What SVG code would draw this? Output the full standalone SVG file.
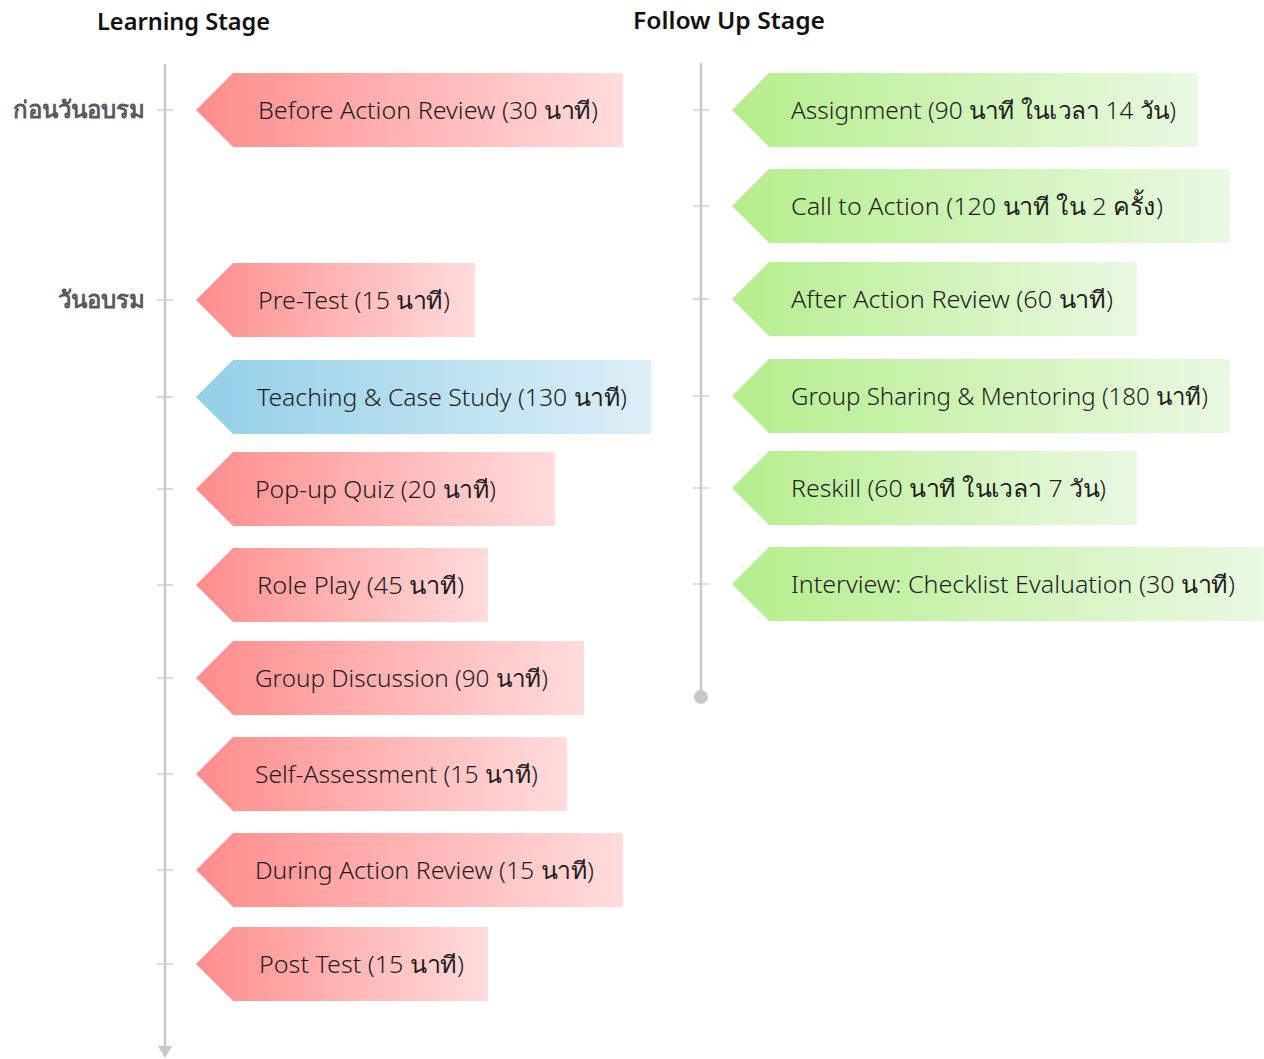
<svg xmlns="http://www.w3.org/2000/svg" width="1264" height="1059" viewBox="0 0 1264 1059">
<style>
.t{font-family:"Noto Sans","DejaVu Sans",sans-serif;font-size:24px;font-weight:300;fill:#1e1e1e}
.t tspan{font-weight:400}
.h{font-family:"Noto Sans","DejaVu Sans",sans-serif;font-size:23px;font-weight:600;fill:#111}
.s{font-family:"Noto Sans","DejaVu Sans",sans-serif;font-size:24px;font-weight:600;fill:#5a5a5a;text-anchor:end}
.ax{stroke:#c8c8c8;stroke-width:2.5;fill:none}
.tk{stroke:#d0d0d0;stroke-width:1.5}
</style>
<defs>
<linearGradient id="gr" x1="0" y1="0" x2="1" y2="0"><stop offset="0" stop-color="#ff8c8c"/><stop offset="1" stop-color="#ffdcdc"/></linearGradient>
<linearGradient id="gb" x1="0" y1="0" x2="1" y2="0"><stop offset="0" stop-color="#92cfe8"/><stop offset="1" stop-color="#ddeff7"/></linearGradient>
<linearGradient id="gg" x1="0" y1="0" x2="1" y2="0"><stop offset="0" stop-color="#b5ee8c"/><stop offset="1" stop-color="#eaf9e2"/></linearGradient>
</defs>
<text class="h" x="97" y="30" textLength="173" lengthAdjust="spacingAndGlyphs">Learning Stage</text>
<text class="h" x="633" y="29" textLength="192" lengthAdjust="spacingAndGlyphs">Follow Up Stage</text>
<text class="s" x="145" y="118">ก่อนวันอบรม</text>
<text class="s" x="145" y="308">วันอบรม</text>
<g id="connectors">
<line class="ax" x1="165" y1="64" x2="165" y2="1046"/>
<polygon points="158,1046 172,1046 165,1058" fill="#c8c8c8"/>
<line class="ax" x1="701" y1="63" x2="701" y2="697"/>
<circle cx="701" cy="697" r="7" fill="#c8c8c8"/>
<g class="tk">
<line x1="157" y1="110" x2="173" y2="110"/><line x1="157" y1="300" x2="173" y2="300"/><line x1="157" y1="397" x2="173" y2="397"/><line x1="157" y1="489" x2="173" y2="489"/><line x1="157" y1="585" x2="173" y2="585"/><line x1="157" y1="678" x2="173" y2="678"/><line x1="157" y1="774" x2="173" y2="774"/><line x1="157" y1="870" x2="173" y2="870"/><line x1="157" y1="964" x2="173" y2="964"/>
<line x1="693" y1="110" x2="709" y2="110"/><line x1="693" y1="206" x2="709" y2="206"/><line x1="693" y1="299" x2="709" y2="299"/><line x1="693" y1="396" x2="709" y2="396"/><line x1="693" y1="488" x2="709" y2="488"/><line x1="693" y1="584" x2="709" y2="584"/>
</g>
</g>
<g id="n1"><polygon points="196,110 233,73 623,73 623,147 233,147" fill="url(#gr)"/><text class="t" x="258" y="119" textLength="340" lengthAdjust="spacingAndGlyphs">Before Action Review (30 <tspan>นาที</tspan>)</text></g>
<g id="n2"><polygon points="196,300 233,263 475,263 475,337 233,337" fill="url(#gr)"/><text class="t" x="258" y="309" textLength="192" lengthAdjust="spacingAndGlyphs">Pre-Test (15 <tspan>นาที</tspan>)</text></g>
<g id="n3"><polygon points="196,397 233,360 651,360 651,434 233,434" fill="url(#gb)"/><text class="t" x="257" y="406" textLength="370" lengthAdjust="spacingAndGlyphs">Teaching &amp; Case Study (130 <tspan>นาที</tspan>)</text></g>
<g id="n4"><polygon points="196,489 233,452 555,452 555,526 233,526" fill="url(#gr)"/><text class="t" x="255" y="498" textLength="241" lengthAdjust="spacingAndGlyphs">Pop-up Quiz (20 <tspan>นาที</tspan>)</text></g>
<g id="n5"><polygon points="196,585 233,548 488,548 488,622 233,622" fill="url(#gr)"/><text class="t" x="257" y="594" textLength="207" lengthAdjust="spacingAndGlyphs">Role Play (45 <tspan>นาที</tspan>)</text></g>
<g id="n6"><polygon points="196,678 233,641 584,641 584,715 233,715" fill="url(#gr)"/><text class="t" x="255" y="687" textLength="293" lengthAdjust="spacingAndGlyphs">Group Discussion (90 <tspan>นาที</tspan>)</text></g>
<g id="n7"><polygon points="196,774 233,737 567,737 567,811 233,811" fill="url(#gr)"/><text class="t" x="255" y="783" textLength="283" lengthAdjust="spacingAndGlyphs">Self-Assessment (15 <tspan>นาที</tspan>)</text></g>
<g id="n8"><polygon points="196,870 233,833 623,833 623,907 233,907" fill="url(#gr)"/><text class="t" x="255" y="879" textLength="339" lengthAdjust="spacingAndGlyphs">During Action Review (15 <tspan>นาที</tspan>)</text></g>
<g id="n9"><polygon points="196,964 233,927 488,927 488,1001 233,1001" fill="url(#gr)"/><text class="t" x="259" y="973" textLength="205" lengthAdjust="spacingAndGlyphs">Post Test (15 <tspan>นาที</tspan>)</text></g>
<g id="m1"><polygon points="732,110 769,73 1198,73 1198,147 769,147" fill="url(#gg)"/><text class="t" x="791" y="119" textLength="385" lengthAdjust="spacingAndGlyphs">Assignment (90 <tspan>นาที ในเวลา</tspan> 14 <tspan>วัน</tspan>)</text></g>
<g id="m2"><polygon points="732,206 769,169 1230,169 1230,243 769,243" fill="url(#gg)"/><text class="t" x="791" y="215" textLength="372" lengthAdjust="spacingAndGlyphs">Call to Action (120 <tspan>นาที ใน</tspan> 2 <tspan>ครั้ง</tspan>)</text></g>
<g id="m3"><polygon points="732,299 769,262 1137,262 1137,336 769,336" fill="url(#gg)"/><text class="t" x="791" y="308" textLength="322" lengthAdjust="spacingAndGlyphs">After Action Review (60 <tspan>นาที</tspan>)</text></g>
<g id="m4"><polygon points="732,396 769,359 1230,359 1230,433 769,433" fill="url(#gg)"/><text class="t" x="791" y="405" textLength="417" lengthAdjust="spacingAndGlyphs">Group Sharing &amp; Mentoring (180 <tspan>นาที</tspan>)</text></g>
<g id="m5"><polygon points="732,488 769,451 1137,451 1137,525 769,525" fill="url(#gg)"/><text class="t" x="791" y="497" textLength="315" lengthAdjust="spacingAndGlyphs">Reskill (60 <tspan>นาที ในเวลา</tspan> 7 <tspan>วัน</tspan>)</text></g>
<g id="m6"><polygon points="732,584 769,547 1264,547 1264,621 769,621" fill="url(#gg)"/><text class="t" x="791" y="593" textLength="444" lengthAdjust="spacingAndGlyphs">Interview: Checklist Evaluation (30 <tspan>นาที</tspan>)</text></g>
</svg>
